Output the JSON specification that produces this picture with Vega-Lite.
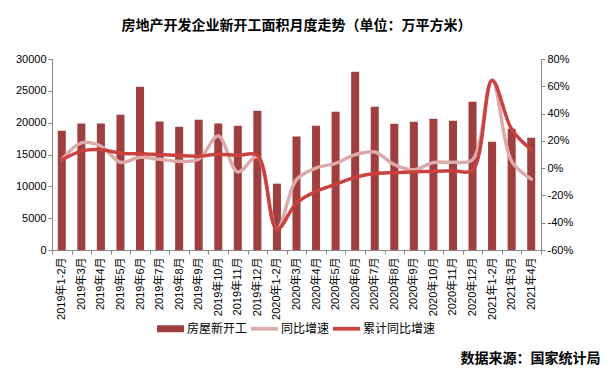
{
  "$schema": "https://vega.github.io/schema/vega-lite/v6.json",
  "width": 489,
  "height": 191,
  "autosize": "none",
  "padding": {"left": 52, "top": 59, "right": 69, "bottom": 124},
  "background": "white",
  "config": {
    "view": {"stroke": null},
    "font": "Liberation Sans, Noto Sans CJK SC",
    "axis": {
      "grid": false,
      "domainColor": "#888888",
      "tickColor": "#888888",
      "tickSize": 4,
      "labelColor": "#000000",
      "labelFontSize": 11,
      "labelFont": "Liberation Sans, Noto Sans CJK SC"
    },
    "legend": {
      "labelFont": "Noto Sans CJK SC",
      "labelFontSize": 12,
      "labelColor": "#000000"
    }
  },
  "title": {
    "text": "房地产开发企业新开工面积月度走势（单位：万平方米）",
    "font": "Noto Sans CJK SC",
    "fontSize": 14,
    "fontWeight": "bold",
    "color": "#000000",
    "anchor": "middle",
    "frame": "group",
    "offset": 20
  },
  "data": {
    "values": [
      {"m": "2019年1-2月", "area": 18750, "yoy": 6.0, "cum": 6.0},
      {"m": "2019年3月", "area": 19850, "yoy": 18.5, "cum": 12.5},
      {"m": "2019年4月", "area": 19850, "yoy": 16.2, "cum": 13.5},
      {"m": "2019年5月", "area": 21250, "yoy": 4.3, "cum": 11.0},
      {"m": "2019年6月", "area": 25650, "yoy": 7.9, "cum": 10.5},
      {"m": "2019年7月", "area": 20200, "yoy": 6.5, "cum": 10.0},
      {"m": "2019年8月", "area": 19350, "yoy": 5.0, "cum": 9.2},
      {"m": "2019年9月", "area": 20470, "yoy": 6.5, "cum": 8.8},
      {"m": "2019年10月", "area": 19850, "yoy": 23.5, "cum": 10.2},
      {"m": "2019年11月", "area": 19530, "yoy": -2.8, "cum": 9.3},
      {"m": "2019年12月", "area": 21880, "yoy": 8.5, "cum": 9.3},
      {"m": "2020年1-2月", "area": 10420, "yoy": -44.9, "cum": -44.9},
      {"m": "2020年3月", "area": 17820, "yoy": -8.5, "cum": -25.5},
      {"m": "2020年4月", "area": 19530, "yoy": 0.1, "cum": -17.0},
      {"m": "2020年5月", "area": 21730, "yoy": 3.5, "cum": -11.8},
      {"m": "2020年6月", "area": 28010, "yoy": 9.9, "cum": -6.8},
      {"m": "2020年7月", "area": 22510, "yoy": 11.8, "cum": -4.0},
      {"m": "2020年8月", "area": 19840, "yoy": 2.6, "cum": -3.3},
      {"m": "2020年9月", "area": 20160, "yoy": -1.2, "cum": -2.8},
      {"m": "2020年10月", "area": 20630, "yoy": 4.2, "cum": -2.2},
      {"m": "2020年11月", "area": 20310, "yoy": 4.3, "cum": -1.9},
      {"m": "2020年12月", "area": 23300, "yoy": 6.2, "cum": -1.5},
      {"m": "2021年1-2月", "area": 17020, "yoy": 64.5, "cum": 64.5},
      {"m": "2021年3月", "area": 19060, "yoy": 5.0, "cum": 28.5},
      {"m": "2021年4月", "area": 17640, "yoy": -8.0, "cum": 13.5}
    ]
  },
  "layer": [
    {
      "mark": {"type": "bar", "width": {"band": 0.41}},
      "encoding": {
        "x": {
          "field": "m",
          "type": "ordinal",
          "sort": null,
          "scale": {"paddingInner": 0, "paddingOuter": 0},
          "axis": {
            "orient": "bottom",
            "labelAngle": -90,
            "labelPadding": 3,
            "tickBand": "extent",
            "title": "数据来源：国家统计局",
            "titleFont": "Noto Sans CJK SC",
            "titleFontSize": 14,
            "titleFontWeight": "bold",
            "titleColor": "#000000",
            "titleAlign": "right",
            "titleAnchor": "end",
            "titleBaseline": "middle",
            "titleX": 548,
            "titleY": 108
          }
        },
        "y": {
          "field": "area",
          "type": "quantitative",
          "scale": {"domain": [0, 30000], "nice": false},
          "axis": {
            "orient": "left",
            "values": [0, 5000, 10000, 15000, 20000, 25000, 30000],
            "format": "d",
            "title": null,
            "labelPadding": 2
          }
        },
        "color": {
          "datum": "房屋新开工",
          "scale": {
            "domain": ["房屋新开工", "同比增速", "累计同比增速"],
            "range": ["#9f3f3f", "#dcaaa8", "#c9423f"]
          },
          "legend": {
            "title": null,
            "orient": "none",
            "direction": "horizontal",
            "legendX": 105,
            "legendY": 256,
            "symbolSize": 729,
            "labelOffset": 3,
            "columnPadding": 3,
            "encode": {
              "symbols": {
                "update": {
                  "shape": {"signal": "datum.value === '房屋新开工' ? 'M-1,-0.26H1V0.26H-1Z' : 'M-1,-0.14H1V0.14H-1Z'"},
                  "fill": {"signal": "scale('color', datum.value)"},
                  "strokeWidth": {"value": 0},
                  "opacity": {"value": 1}
                }
              }
            }
          }
        }
      }
    },
    {
      "mark": {"type": "line", "interpolate": "catmull-rom", "strokeWidth": 3.5, "strokeCap": "round"},
      "encoding": {
        "x": {"field": "m", "type": "ordinal", "sort": null},
        "y": {
          "field": "yoy",
          "type": "quantitative",
          "scale": {"domain": [-60, 80], "nice": false},
          "axis": {
            "orient": "right",
            "values": [-60, -40, -20, 0, 20, 40, 60, 80],
            "labelExpr": "datum.value + '%'",
            "title": null,
            "labelPadding": 2
          }
        },
        "color": {"datum": "同比增速"}
      }
    },
    {
      "mark": {"type": "line", "interpolate": "catmull-rom", "strokeWidth": 3.5, "strokeCap": "round"},
      "encoding": {
        "x": {"field": "m", "type": "ordinal", "sort": null},
        "y": {
          "field": "cum",
          "type": "quantitative",
          "scale": {"domain": [-60, 80], "nice": false},
          "axis": null
        },
        "color": {"datum": "累计同比增速"}
      }
    }
  ],
  "resolve": {"scale": {"y": "independent"}}
}
